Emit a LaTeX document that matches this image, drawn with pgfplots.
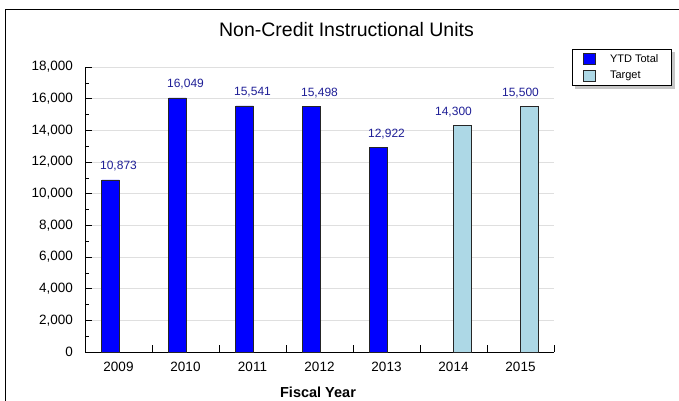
\documentclass[border=0pt]{standalone}
\usepackage{pgfplots}
\pgfplotsset{compat=1.18}
\usepackage{fontspec}
\setmainfont{Liberation Sans}
\definecolor{ytd}{RGB}{0,0,255}
\definecolor{tgt}{RGB}{173,216,230}
\definecolor{lbl}{RGB}{30,30,150}
\pgfplotsset{sqlegend/.style={legend image code/.code={\draw[##1] (0pt,-5.5pt) rectangle (12pt,5.5pt);}}}
\begin{document}
\begin{tikzpicture}[x=1pt,y=1pt]
\useasboundingbox (0pt,0pt) rectangle (679pt,400pt);
\draw[line width=1.3pt] (5.5pt,-10pt) -- (5.5pt,390.5pt) -- (700pt,390.5pt);
\begin{axis}[
  at={(85pt,48pt)}, anchor=south west,
  scale only axis, width=469pt, height=285pt,
  xmin=-0.5, xmax=6.5, ymin=0, ymax=18000,
  axis x line*=bottom, axis y line*=left,
  axis line style={line width=0.8pt, black},
  xtick={-0.5,0.5,...,6.5}, xticklabels={},
  extra x ticks={0,1,2,3,4,5,6},
  extra x tick labels={2009,2010,2011,2012,2013,2014,2015},
  extra x tick style={major tick length=0pt, grid=none},
  ytick={0,2000,...,18000},
  minor ytick={1000,3000,...,17000},
  tick align=inside,
  major tick length=7pt, minor tick length=4pt,
  tick style={black, line width=0.6pt},
  ymajorgrids, major grid style={gray!25, line width=0.6pt},
  scaled y ticks=false,
  /pgf/number format/1000 sep={,},
  /pgf/number format/assume math mode=true,
  every tick label/.append style={font=\fontsize{13.5}{15}\selectfont},
  yticklabel style={inner sep=0pt, xshift=-12pt},
  xticklabel style={inner sep=0pt, yshift=-10pt},
  nodes near coords={\pgfmathprintnumber[1000 sep={,},assume math mode=true,fixed,precision=0]{\pgfplotspointmeta}},
  every node near coord/.append style={font=\fontsize{12}{13}\selectfont, text=lbl, anchor=base, inner sep=0pt, yshift=10pt},
  legend style={name=leg, at={(1.0384,1.063)}, anchor=north west, draw=black, line width=0.8pt, fill=white,
    font=\fontsize{11}{13}\selectfont, inner xsep=11pt, inner ysep=3pt,
    column sep=12pt, row sep=3pt},
  legend cell align=left,
]
\addplot[ybar, bar width=17.5pt, bar shift=-8pt, fill=ytd, draw=black!85, line width=0.6pt, sqlegend]
  coordinates {(0,10873) (1,16049) (2,15541) (3,15498) (4,12922)};
\addlegendentry{YTD Total}
\addplot[ybar, bar width=17.5pt, bar shift=8.7pt, fill=tgt, draw=black!85, line width=0.6pt, sqlegend]
  coordinates {(5,14300) (6,15500)};
\addlegendentry{Target}
\end{axis}
\fill[gray!45] ([shift={(0.4pt,-3pt)}]leg.north east) rectangle ([shift={(3.4pt,-3.4pt)}]leg.south east);
\fill[gray!45] ([shift={(3pt,-0.4pt)}]leg.south west) rectangle ([shift={(0.4pt,-3.4pt)}]leg.south east);
\node[anchor=base, inner sep=0pt, font=\fontsize{19.5}{21}\selectfont] at (346.5pt,363.3pt) {Non-Credit Instructional Units};
\node[anchor=base, inner sep=0pt, font=\bfseries\fontsize{14.5}{16}\selectfont] at (318pt,2.5pt) {Fiscal Year};
\end{tikzpicture}
\end{document}
